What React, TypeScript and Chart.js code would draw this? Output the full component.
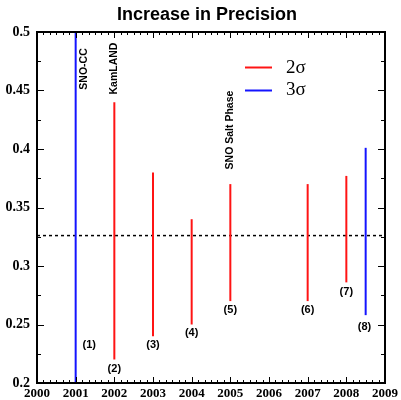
import { useEffect, useRef } from "react";
import { Chart, registerables } from "chart.js";

Chart.register(...registerables);

const chartTitle = "Increase in Precision";

// Experiments (vertical bars)
const years = [2001, 2002, 2003, 2004, 2005, 2007, 2008, 2008.5];
const lows = [0.2, 0.22, 0.24, 0.25, 0.27, 0.27, 0.286, 0.258];
const highs = [0.5, 0.44, 0.38, 0.34, 0.37, 0.37, 0.377, 0.401];
const sigmaLevels = [3, 2, 2, 2, 2, 2, 2, 3];

// Reference level (dotted line)
const refLevel = 0.326;

// Numbered labels
const numLabels = ["(1)", "(2)", "(3)", "(4)", "(5)", "(6)", "(7)", "(8)"];
const numLabelX = [2001.35, 2002, 2003, 2004, 2005, 2007, 2008, 2008.47];
const numLabelY = [0.2325, 0.212, 0.2325, 0.2427, 0.2624, 0.2624, 0.2778, 0.2479];

// Experiment names (rotated)
const expNames = ["SNO-CC", "KamLAND", "SNO Salt Phase"];
const expNameX = [2001.22, 2002, 2005];
const expNameY = [0.4684, 0.4688, 0.4162];

// Legend
const legendLabels = ["2σ", "3σ"];
const legendSigma = [2, 3];

// Axes
const xTickValues = [2000, 2001, 2002, 2003, 2004, 2005, 2006, 2007, 2008, 2009];
const xTickLabels = ["2000", "2001", "2002", "2003", "2004", "2005", "2006", "2007", "2008", "2009"];
const yTickValues = [0.2, 0.25, 0.3, 0.35, 0.4, 0.45, 0.5];
const yTickLabels = ["0.2", "0.25", "0.3", "0.35", "0.4", "0.45", "0.5"];

const RED = "rgb(255,20,20)";
const BLUE = "rgb(20,20,255)";
const colorFor = (s: number) => (s === 3 ? BLUE : RED);

const decor = {
  id: "decor",
  afterDraw(chart: any) {
    const ctx = chart.ctx as CanvasRenderingContext2D;
    const { left, right, top, bottom } = chart.chartArea;
    const xs = chart.scales.x;
    const ys = chart.scales.y;
    ctx.save();

    // Frame
    ctx.strokeStyle = "#000";
    ctx.lineWidth = 2;
    ctx.strokeRect(left, top, right - left, bottom - top);

    // Ticks
    ctx.lineWidth = 1;
    const vline = (px: number, len: number) => {
      const x = Math.round(px) + 0.5;
      ctx.beginPath();
      ctx.moveTo(x, bottom);
      ctx.lineTo(x, bottom - len);
      ctx.moveTo(x, top);
      ctx.lineTo(x, top + len);
      ctx.stroke();
    };
    const hline = (py: number, len: number) => {
      const y = Math.round(py) + 0.5;
      ctx.beginPath();
      ctx.moveTo(left, y);
      ctx.lineTo(left + len, y);
      ctx.moveTo(right, y);
      ctx.lineTo(right - len, y);
      ctx.stroke();
    };
    const xMinorPerMajor = 6;
    xTickValues.forEach((v, i) => {
      vline(xs.getPixelForValue(v), 6);
      if (i < xTickValues.length - 1) {
        const step = xTickValues[i + 1] - v;
        for (let k = 1; k < xMinorPerMajor; k++) {
          vline(xs.getPixelForValue(v + (step * k) / xMinorPerMajor), 3);
        }
      }
    });
    yTickValues.forEach((v, i) => {
      hline(ys.getPixelForValue(v), 7);
      if (i < yTickValues.length - 1) {
        const mid = (v + yTickValues[i + 1]) / 2;
        hline(ys.getPixelForValue(mid), 4);
      }
    });

    // Title
    ctx.fillStyle = "#000";
    ctx.font = "bold 18px 'Liberation Sans', Arial, sans-serif";
    ctx.textAlign = "center";
    ctx.textBaseline = "middle";
    ctx.fillText(chartTitle, 207, 15);

    // Numbered labels
    ctx.font = "bold 11px 'Liberation Sans', Arial, sans-serif";
    numLabels.forEach((t, i) => {
      ctx.fillText(t, xs.getPixelForValue(numLabelX[i]), ys.getPixelForValue(numLabelY[i]));
    });

    // Rotated experiment names
    ctx.font = "bold 10.5px 'Liberation Sans', Arial, sans-serif";
    expNames.forEach((t, i) => {
      ctx.save();
      ctx.translate(xs.getPixelForValue(expNameX[i]), ys.getPixelForValue(expNameY[i]));
      ctx.rotate(-Math.PI / 2);
      ctx.fillText(t, 0, 0);
      ctx.restore();
    });

    // Legend
    ctx.font = "19px 'Liberation Serif', 'Times New Roman', serif";
    ctx.textAlign = "left";
    legendLabels.forEach((t, i) => {
      const y = top + 35 + i * 22.5;
      ctx.strokeStyle = colorFor(legendSigma[i]);
      ctx.lineWidth = 2;
      ctx.beginPath();
      ctx.moveTo(left + 208, Math.round(y) + 0.5);
      ctx.lineTo(left + 235, Math.round(y) + 0.5);
      ctx.stroke();
      ctx.fillStyle = "#000";
      ctx.fillText(t, left + 249, y + 1);
    });

    ctx.restore();
  },
};

export default function App() {
  const ref = useRef<HTMLCanvasElement>(null);

  useEffect(() => {
    const canvas = ref.current;
    if (!canvas) return;
    const datasets: any[] = years.map((yr, i) => ({
      data: [
        { x: yr, y: lows[i] },
        { x: yr, y: highs[i] },
      ],
      borderColor: colorFor(sigmaLevels[i]),
      backgroundColor: colorFor(sigmaLevels[i]),
      borderWidth: 2,
      showLine: true,
      pointRadius: 0,
      fill: false,
    }));
    datasets.push({
      data: [
        { x: xTickValues[0], y: refLevel },
        { x: xTickValues[xTickValues.length - 1], y: refLevel },
      ],
      borderColor: "#000",
      borderWidth: 1.5,
      borderDash: [3, 3],
      showLine: true,
      pointRadius: 0,
      fill: false,
    });

    const serif = "'Liberation Serif', 'Times New Roman', serif";

    const chart = new Chart(canvas, {
      type: "scatter",
      data: { datasets },
      options: {
        responsive: false,
        animation: false,
        devicePixelRatio: 1,
        layout: { padding: { top: 32, right: 12, left: 0, bottom: 0 } },
        plugins: {
          legend: { display: false },
          title: { display: false },
          tooltip: { enabled: false },
        },
        scales: {
          x: {
            type: "linear",
            min: xTickValues[0],
            max: xTickValues[xTickValues.length - 1],
            grid: { display: false, drawTicks: false },
            border: { display: false },
            afterBuildTicks: (scale: any) => {
              scale.ticks = xTickValues.map((v) => ({ value: v }));
            },
            afterFit: (scale: any) => {
              scale.height = 17;
            },
            ticks: {
              autoSkip: false,
              maxRotation: 0,
              padding: 3,
              color: "#000",
              font: { family: serif, size: 13, weight: "bold" },
              callback: (_v: any, i: number) => xTickLabels[i],
            },
          },
          y: {
            type: "linear",
            min: yTickValues[0],
            max: yTickValues[yTickValues.length - 1],
            grid: { display: false, drawTicks: false },
            border: { display: false },
            afterBuildTicks: (scale: any) => {
              scale.ticks = yTickValues.map((v) => ({ value: v }));
            },
            afterFit: (scale: any) => {
              scale.width = 37;
            },
            ticks: {
              autoSkip: false,
              padding: 7,
              color: "#000",
              font: { family: serif, size: 14, weight: "bold" },
              callback: (_v: any, i: number) => yTickLabels[i],
            },
          },
        },
      },
      plugins: [decor],
    });
    return () => chart.destroy();
  }, []);

  return (
    <div style={{ position: "absolute", left: 0, top: 0, width: 401, height: 400 }}>
      <canvas ref={ref} width={401} height={400} style={{ display: "block", width: 401, height: 400 }} />
    </div>
  );
}
